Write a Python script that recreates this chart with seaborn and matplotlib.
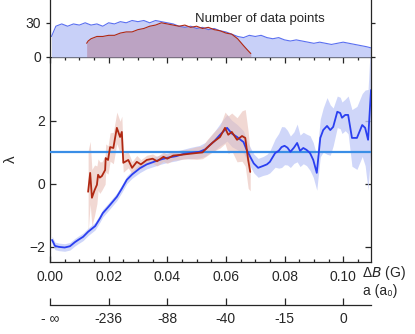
import matplotlib
matplotlib.use("Agg")
import matplotlib.pyplot as plt
import numpy as np
import seaborn as sns

# main panel: lambda vs Delta B
blue_x = [0.0007, 0.0017, 0.003, 0.005, 0.0068, 0.0085, 0.0096, 0.0113, 0.013, 0.0154,
          0.017, 0.018, 0.020, 0.0228, 0.0245, 0.0262, 0.028, 0.0307, 0.033, 0.036,
          0.038, 0.040, 0.043, 0.0455, 0.048, 0.051, 0.053, 0.0546, 0.056, 0.058,
          0.0595, 0.0604, 0.062, 0.0638, 0.065, 0.066, 0.067, 0.0683, 0.0695, 0.071,
          0.0727, 0.074, 0.075, 0.0768, 0.078, 0.079, 0.080, 0.081, 0.082, 0.0832,
          0.0843, 0.0853, 0.0864, 0.0875, 0.0887, 0.0898, 0.091, 0.0922, 0.0932, 0.0945,
          0.0956, 0.0966, 0.098, 0.099, 0.0996, 0.1007, 0.1017, 0.103, 0.1047, 0.1065,
          0.1075, 0.1085, 0.1095]
blue_lam = [-1.78, -1.97, -2.0, -2.02, -1.98, -1.85, -1.78, -1.68, -1.52, -1.34,
            -1.1, -0.93, -0.72, -0.41, -0.15, 0.13, 0.3, 0.5, 0.62, 0.72,
            0.78, 0.83, 0.88, 0.95, 0.98, 1.02, 1.1, 1.24, 1.35, 1.56,
            1.7, 1.78, 1.6, 1.49, 1.4, 1.33, 1.1, 0.86, 0.65, 0.51,
            0.57, 0.62, 0.7, 0.98, 1.05, 1.17, 1.21, 1.15, 1.02, 1.15,
            1.3, 1.05, 1.14, 1.08, 0.98, 0.76, 0.35, 1.46, 1.71, 1.84,
            1.71, 1.81, 2.29, 2.25, 2.1, 2.19, 2.19, 1.46, 1.46, 1.87,
            1.78, 1.4, 2.98]
blue_err = [0.12, 0.12, 0.12, 0.12, 0.12, 0.12, 0.12, 0.12, 0.12, 0.12,
            0.12, 0.12, 0.12, 0.12, 0.12, 0.12, 0.12, 0.14, 0.14, 0.15,
            0.15, 0.15, 0.15, 0.15, 0.18, 0.2, 0.22, 0.25, 0.3, 0.35,
            0.4, 0.42, 0.42, 0.4, 0.38, 0.35, 0.32, 0.3, 0.3, 0.3,
            0.3, 0.32, 0.35, 0.45, 0.55, 0.65, 0.6, 0.55, 0.5, 0.5,
            0.6, 0.5, 0.5, 0.5, 0.55, 0.55, 0.55, 0.6, 0.7, 0.9,
            0.8, 0.6, 0.5, 0.5, 0.5, 0.5, 0.6, 0.9, 1.0, 1.0,
            1.2, 1.6, 1.8]

red_x = [0.0130, 0.0137, 0.0143, 0.0152, 0.0160, 0.0164, 0.0170, 0.0177, 0.0188, 0.0190,
         0.0198, 0.0205, 0.0216, 0.0228, 0.0239, 0.0245, 0.0250, 0.0267, 0.0280, 0.0296,
         0.031, 0.033, 0.035, 0.0365, 0.0387, 0.040, 0.042, 0.0444, 0.047, 0.050,
         0.052, 0.0535, 0.0557, 0.058, 0.0597, 0.0608, 0.062, 0.0638, 0.0655, 0.0666,
         0.0676, 0.0683]
red_lam = [-0.25, 0.35, -0.44, -0.2, -0.03, 0.29, 0.2, 0.25, 0.44, 0.82,
           0.76, 1.17, 1.14, 1.78, 1.49, 1.65, 0.67, 0.76, 0.51, 0.7,
           0.62, 0.76, 0.8, 0.72, 0.86, 0.8, 0.9, 0.92, 0.95, 0.98,
           1.0, 1.14, 1.33, 1.49, 1.78, 1.56, 1.65, 1.4, 1.52, 1.46,
           0.76, 0.38]
red_err = [1.3, 1.0, 0.9, 0.8, 0.6, 0.5, 0.5, 0.45, 0.45, 0.45,
           0.45, 0.45, 0.5, 0.5, 0.5, 0.5, 0.3, 0.25, 0.2, 0.2,
           0.15, 0.15, 0.15, 0.15, 0.15, 0.15, 0.15, 0.15, 0.15, 0.2,
           0.2, 0.25, 0.3, 0.35, 0.5, 0.6, 0.6, 0.7, 0.8, 0.9,
           0.9, 0.6]

# top panel: number of data points
nb_x = [0.0005, 0.002, 0.004, 0.006, 0.008, 0.010, 0.012, 0.014, 0.016, 0.018,
        0.020, 0.022, 0.024, 0.026, 0.028, 0.030, 0.032, 0.034, 0.036, 0.038,
        0.040, 0.042, 0.044, 0.046, 0.048, 0.050, 0.052, 0.054, 0.056, 0.058,
        0.060, 0.062, 0.064, 0.066, 0.068, 0.070, 0.072, 0.074, 0.076, 0.078,
        0.080, 0.082, 0.084, 0.086, 0.088, 0.090, 0.092, 0.094, 0.096, 0.098,
        0.100, 0.102, 0.104, 0.106, 0.108, 0.1095]
nb_n = [18, 27, 29, 27, 29, 28, 30, 28, 29, 27,
        30, 29, 31, 30, 32, 31, 32, 30, 32, 31,
        30, 29, 27, 26, 27, 25, 26, 24, 25, 23,
        22, 20, 18, 17, 19, 18, 19, 17, 16, 17,
        15, 14, 15, 14, 13, 12, 13, 12, 11, 12,
        13, 12, 11, 10, 9, 8]
nr_x = [0.0125, 0.013, 0.014, 0.016, 0.018, 0.020, 0.022, 0.024, 0.026, 0.028,
        0.030, 0.032, 0.034, 0.036, 0.038, 0.040, 0.042, 0.044, 0.046, 0.048,
        0.050, 0.052, 0.054, 0.056, 0.058, 0.060, 0.062, 0.063, 0.064, 0.065,
        0.066, 0.0674, 0.0685]
nr_n = [12, 14, 16, 18, 18, 19, 19, 21, 22, 22,
        24, 25, 27, 28, 30, 29, 28, 27, 28, 26,
        27, 25, 26, 24, 23, 21, 20, 18, 16, 13,
        10, 6, 3]

xticks = [0.0, 0.02, 0.04, 0.06, 0.08, 0.10]
a_labels = ["- \u221e", "-236", "-88", "-40", "-15", "0"]

BLUE = "#2a3ff0"
BLUE_BAND = "#c3ccf8"
RED = "#b02812"
RED_BAND = "#e9bfb6"
HLINE = "#3a8ee6"

sns.set_style("ticks")
plt.rcParams['font.family'] = ['Liberation Sans', 'DejaVu Sans']
plt.rcParams['font.size'] = 10
plt.rcParams['axes.linewidth'] = 0.9

fig = plt.figure(figsize=(4.15, 3.34), dpi=100)
L, W = 0.1205, 0.7735
ax = fig.add_axes([L, 0.2156, W, 0.6138])
ax_top = fig.add_axes([L, 0.8294, W, 0.1706])
ax_a = fig.add_axes([L, 0.0868, W, 0.001])

xlim = (0.0, 0.1095)

# main panel
bx, by, be = np.array(blue_x), np.array(blue_lam), np.array(blue_err)
rx, ry, re = np.array(red_x), np.array(red_lam), np.array(red_err)
ax.fill_between(bx, by - be, by + be, color=BLUE_BAND, alpha=0.8, lw=0)
ax.fill_between(rx, ry - re, ry + re, color=RED_BAND, alpha=0.6, lw=0)
ax.axhline(1.0, color=HLINE, lw=1.6, zorder=3)
sns.lineplot(x=bx, y=by, ax=ax, color=BLUE, lw=1.3, zorder=4)
sns.lineplot(x=rx, y=ry, ax=ax, color=RED, lw=1.3, zorder=5)
ax.set_xlim(*xlim)
ax.set_ylim(-2.48, 4.03)
ax.set_yticks([-2, 0, 2])
ax.set_yticklabels(["\u22122", "0", "2"])
ax.set_xticks(xticks)
ax.set_xticklabels([f"{v:.2f}" for v in xticks])
ax.set_xticks(np.arange(0, 0.11, 0.005), minor=True)
ax.tick_params(which="both", direction="in", top=True, right=True, width=0.9)
ax.tick_params(which="major", length=4)
ax.tick_params(which="minor", length=2.5)
ax.tick_params(axis="x", pad=6)
ax.set_ylabel("\u03bb", fontsize=11, labelpad=8)
ax.text(0.972, -0.056, "\u0394$B$ (G)", transform=ax.transAxes,
        ha="left", va="center", fontsize=10)

# top panel
ax_top.fill_between(nb_x, 0, nb_n, color="#c8d0f8", lw=0)
ax_top.fill_between(nr_x, 0, nr_n, color="#a85060", alpha=0.35, lw=0)
sns.lineplot(x=nb_x, y=nb_n, ax=ax_top, color="#5a6ff0", lw=0.8)
sns.lineplot(x=nr_x, y=nr_n, ax=ax_top, color=RED, lw=0.8)
ax_top.set_xlim(*xlim)
ax_top.set_ylim(0, 50)
ax_top.set_yticks([0, 30])
ax_top.set_xticks([])
ax_top.spines["top"].set_visible(False)
ax_top.spines["bottom"].set_visible(False)
ax_top.tick_params(axis="y", direction="out", length=3, right=True, width=0.9)
ax_top.text(0.0495, 33, "Number of data points", fontsize=9.5, ha="left", va="center")

# scattering length axis
ax_a.set_xlim(*xlim)
ax_a.set_yticks([])
for s in ["top", "left", "right"]:
    ax_a.spines[s].set_visible(False)
ax_a.set_xticks(xticks)
ax_a.set_xticklabels(a_labels)
ax_a.tick_params(axis="x", direction="in", length=5, width=0.9, pad=5)
ax_a.patch.set_visible(False)
fig.text(0.875, 0.108, "a (a\u2080)", fontsize=10, ha="left", va="bottom")

fig.savefig("out.png", dpi=100)
